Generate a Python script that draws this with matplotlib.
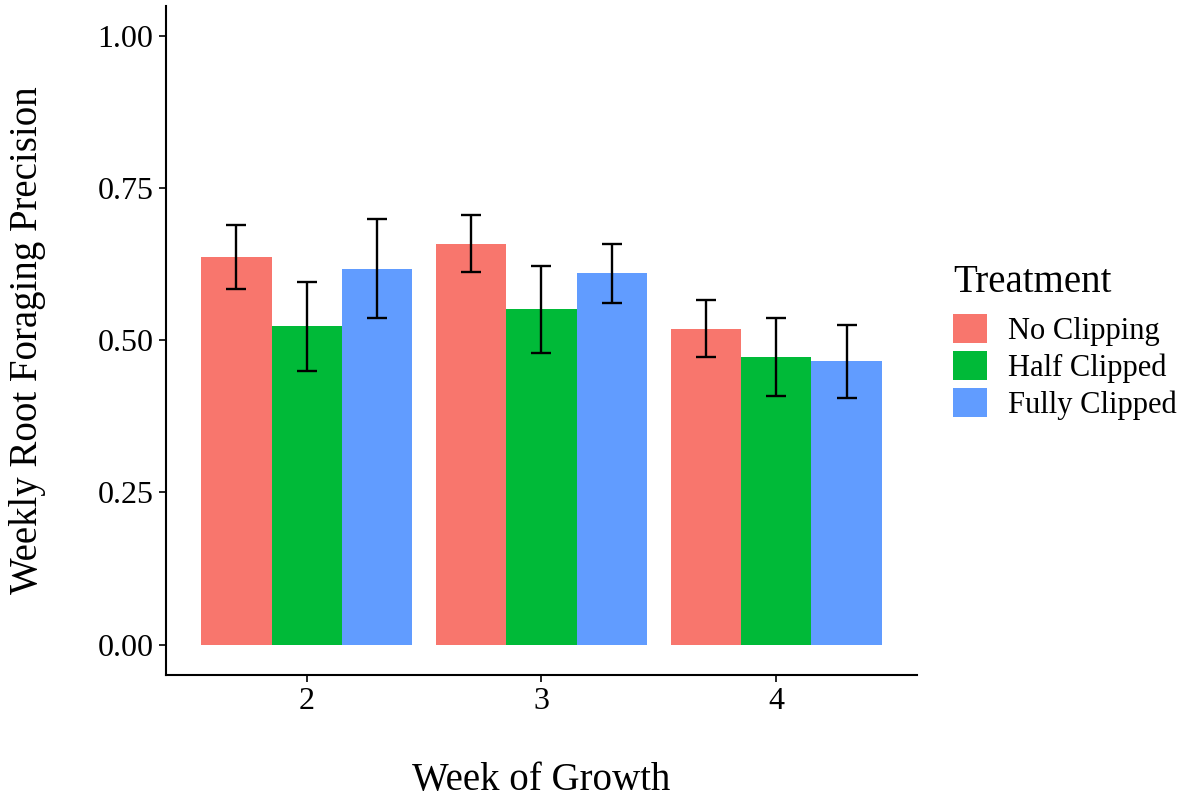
import numpy as np
import matplotlib
matplotlib.use('Agg')
import matplotlib.pyplot as plt

# values
weeks = ['2', '3', '4']
treatments = ['No Clipping', 'Half Clipped', 'Fully Clipped']
colors = ['#F8766D', '#00BA38', '#619CFF']
no_clip = [0.637, 0.659, 0.519]
half_clip = [0.523, 0.551, 0.472]
full_clip = [0.618, 0.610, 0.466]
no_clip_se = [0.053, 0.047, 0.047]
half_clip_se = [0.073, 0.072, 0.064]
full_clip_se = [0.081, 0.048, 0.060]

means = [no_clip, half_clip, full_clip]
errs = [no_clip_se, half_clip_se, full_clip_se]

plt.rcParams['font.family'] = ['Liberation Serif', 'DejaVu Serif']

fig = plt.figure(figsize=(11.96, 7.97), dpi=100)
ax = fig.add_axes([0.1388, 0.1531, 0.7667 - 0.1388, 0.9927 - 0.1531])

x = np.arange(len(weeks))
w = 0.3
handles = []
for i in range(len(treatments)):
    pos = x + (i - 1) * w
    b = ax.bar(pos, means[i], width=w, color=colors[i], label=treatments[i], zorder=2)
    handles.append(b)
    ax.errorbar(pos, means[i], yerr=errs[i], fmt='none', ecolor='black',
                elinewidth=1.7, capsize=7, capthick=1.7, zorder=3)

ax.set_xlim(-0.6, len(weeks) - 0.4)
ax.set_ylim(-0.05, 1.05)
ax.set_xticks(x)
ax.set_xticklabels(weeks)
ax.set_yticks([0, 0.25, 0.5, 0.75, 1.0])
ax.set_yticklabels(['0.00', '0.25', '0.50', '0.75', '1.00'])
ax.tick_params(labelsize=23, length=5, width=1.2, colors='black', pad=4)

for s in ['top', 'right']:
    ax.spines[s].set_visible(False)
for s in ['left', 'bottom']:
    ax.spines[s].set_linewidth(1.5)

ax.set_xlabel('Week of Growth', fontsize=28, labelpad=33)
ax.set_ylabel('Weekly Root Foraging Precision', fontsize=28, labelpad=37)

leg = fig.legend(handles=handles, labels=treatments, title='Treatment',
                 loc='upper left', bbox_to_anchor=(0.788, 0.682),
                 frameon=False, fontsize=22, title_fontsize=28,
                 handlelength=1.1, handleheight=1.1, handletextpad=0.68,
                 labelspacing=0.16, borderaxespad=0, borderpad=0.35)
leg._legend_box.align = 'left'
leg._legend_box.sep = 9

fig.savefig('out.png', dpi=100)
